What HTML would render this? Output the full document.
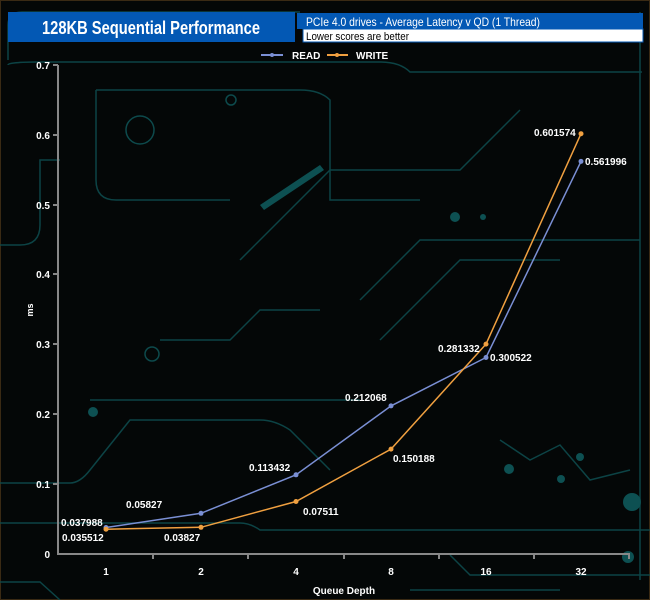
<!DOCTYPE html>
<html><head><style>
body{margin:0;background:#000;}
#c{position:relative;width:650px;height:600px;overflow:hidden;background:#050808;font-family:"Liberation Sans",sans-serif;}
svg{position:absolute;left:0;top:0;}
</style></head><body><div id="c">
<svg width="650" height="600" viewBox="0 0 650 600">
<rect x="0.5" y="0.5" width="649" height="599" fill="#040707" stroke="#3a2a14"/>
<g fill="none" stroke="#0d4a4c" stroke-width="1.5" opacity="0.9">
<path d="M8 60 V25 Q8 12 22 12 H300"/>
<path d="M8 65 Q8 62 40 62 H380 Q400 62 410 72 H642"/>
<path d="M640 12 V580"/>
<path d="M96 90 H300 Q320 90 330 100 V200 H420"/>
<path d="M96 90 V180 Q96 200 116 200 H230"/>
<path d="M0 245 H20 Q40 245 40 225 V160 H60"/>
<path d="M0 483 H70 Q80 483 90 470 L130 420 H260 Q275 420 290 430 L330 470"/>
<path d="M0 523 H240 Q250 523 260 530 H650"/>
<path d="M0 582 H40 L60 600"/>
<path d="M360 300 L420 240 H640"/>
<path d="M380 340 L460 260 H560"/>
<path d="M240 260 L330 170 H460 L520 110"/>
<path d="M450 555 L470 575 H650"/>
<path d="M500 440 L530 460 L560 445 L590 480 L630 470"/>
<path d="M160 340 H230 L260 310 H320"/>
<path d="M90 400 H360"/>
<path d="M410 590 H560"/>
</g>
<g fill="#0d5052">
<circle cx="93" cy="412" r="5"/><circle cx="632" cy="502" r="9"/><circle cx="628" cy="557" r="6"/>
<circle cx="509" cy="469" r="5"/><circle cx="561" cy="479" r="4"/><circle cx="580" cy="457" r="4"/>
<circle cx="455" cy="217" r="5"/><circle cx="483" cy="217" r="3"/>
<path d="M260 205 L320 165 L324 170 L264 210Z"/>
</g>
<g fill="none" stroke="#0d4a4c" stroke-width="1.5"><circle cx="140" cy="130" r="14"/><circle cx="152" cy="354" r="7"/><circle cx="231" cy="100" r="5"/></g>
<rect x="8" y="12" width="287" height="30" fill="#0358b4"/>
<text x="151" y="34" fill="#fff" font-size="18" font-weight="bold" text-anchor="middle" textLength="218" lengthAdjust="spacingAndGlyphs">128KB Sequential Performance</text>
<rect x="297" y="13" width="346" height="16" fill="#0358b4"/>
<text x="306" y="26" fill="#fff" font-size="12" textLength="234" lengthAdjust="spacingAndGlyphs">PCIe 4.0 drives - Average Latency v QD (1 Thread)</text>
<rect x="303" y="29" width="340" height="13" fill="#fff" stroke="#0358b4"/>
<text x="306" y="40" fill="#000" font-size="11" textLength="103" lengthAdjust="spacingAndGlyphs">Lower scores are better</text>
<line x1="261" y1="55" x2="283" y2="55" stroke="#7a8fd4" stroke-width="2"/><circle cx="272" cy="55" r="2" fill="#7a8fd4"/>
<text x="292" y="59" fill="#fff" font-size="10" font-weight="bold">READ</text>
<line x1="327" y1="55" x2="348" y2="55" stroke="#f0a040" stroke-width="2"/><circle cx="337" cy="55" r="2" fill="#f0a040"/>
<text x="356" y="59" fill="#fff" font-size="10" font-weight="bold">WRITE</text>
<g stroke="#888" stroke-width="2" fill="none">
<path d="M58 65 V554 H630"/>
<path d="M53 65 H58 M53 135 H58 M53 205 H58 M53 274 H58 M53 344 H58 M53 414 H58 M53 484 H58"/>
<path d="M153 554 V559 M248 554 V559 M344 554 V559 M439 554 V559 M534 554 V559 M629 554 V559"/>
</g>
<g fill="#fff" font-size="10" font-weight="bold" text-anchor="end">
<text x="50" y="69">0.7</text><text x="50" y="139">0.6</text><text x="50" y="209">0.5</text><text x="50" y="278">0.4</text><text x="50" y="348">0.3</text><text x="50" y="418">0.2</text><text x="50" y="488">0.1</text><text x="50" y="558">0</text>
</g>
<g fill="#fff" font-size="10" font-weight="bold" text-anchor="middle">
<text x="106" y="575">1</text><text x="201" y="575">2</text><text x="296" y="575">4</text><text x="391" y="575">8</text><text x="486" y="575">16</text><text x="581" y="575">32</text>
<text x="344" y="594">Queue Depth</text>
<text x="30" y="313" transform="rotate(-90 30 310)" font-size="9">ms</text>
</g>
<polyline points="106,527.5 201,513.3 296,474.8 391,405.9 486,357.5 581,161.4" fill="none" stroke="#7a8fd4" stroke-width="1.5"/>
<polyline points="106,529.2 201,527.3 296,501.5 391,449.1 486,344.1 581,133.7" fill="none" stroke="#f0a040" stroke-width="1.5"/>
<g fill="#7a8fd4"><circle cx="106" cy="527.5" r="2.5"/><circle cx="201" cy="513.3" r="2.5"/><circle cx="296" cy="474.8" r="2.5"/><circle cx="391" cy="405.9" r="2.5"/><circle cx="486" cy="357.5" r="2.5"/><circle cx="581" cy="161.4" r="2.5"/></g>
<g fill="#f0a040"><circle cx="106" cy="529.2" r="2.5"/><circle cx="201" cy="527.3" r="2.5"/><circle cx="296" cy="501.5" r="2.5"/><circle cx="391" cy="449.1" r="2.5"/><circle cx="486" cy="344.1" r="2.5"/><circle cx="581" cy="133.7" r="2.5"/></g>
<g fill="#fff" font-size="10" font-weight="bold">
<text x="61" y="526">0.037988</text><text x="62" y="541">0.035512</text>
<text x="126" y="508">0.05827</text><text x="164" y="541">0.03827</text>
<text x="249" y="471">0.113432</text><text x="303" y="515">0.07511</text>
<text x="345" y="401">0.212068</text><text x="393" y="462">0.150188</text>
<text x="438" y="352">0.281332</text><text x="490" y="361">0.300522</text>
<text x="534" y="136">0.601574</text><text x="585" y="165">0.561996</text>
</g>
</svg>
</div></body></html>
